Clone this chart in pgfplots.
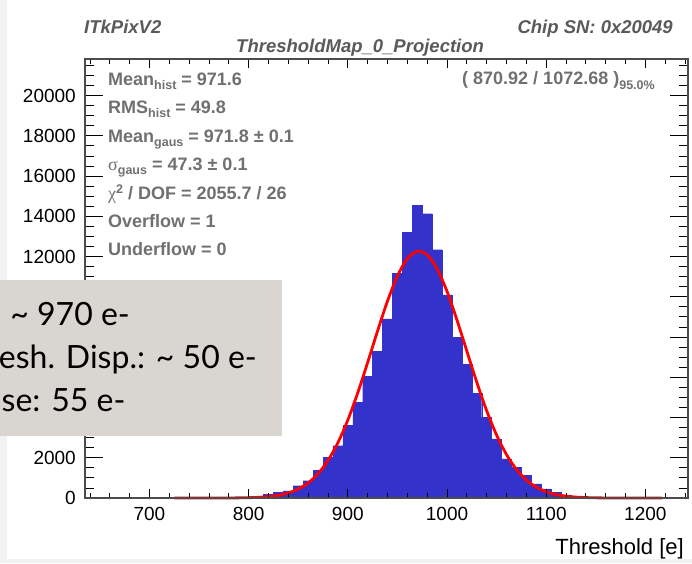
\documentclass[border=0pt]{standalone}
\usepackage{fontspec}
\setmainfont{Liberation Sans}
\newfontfamily\lato{Lato}
\newfontfamily\serifgr{Liberation Serif}
\usepackage{pgfplots}
\pgfplotsset{compat=1.18}
\definecolor{histblue}{RGB}{51,51,204}
\definecolor{boxgray}{RGB}{217,214,210}
\definecolor{titlegray}{RGB}{90,90,90}
\definecolor{statgray}{RGB}{112,112,112}
\definecolor{bggray}{RGB}{242,242,242}
\newcommand\sub[1]{\raisebox{-4pt}{\fontsize{12.5}{12.5}\selectfont #1}}
\begin{document}
\begin{tikzpicture}
\useasboundingbox (0,0) rectangle (692pt,-563pt);
\fill[bggray] (0,0) rectangle (692pt,-563pt);
\fill[white] (7pt,0) rectangle (692pt,-559pt);
\begin{axis}[at={(85pt,-498pt)}, anchor=south west, scale only axis,
  width=603pt, height=439pt, xmin=635, xmax=1243, ymin=0, ymax=21820,
  xtick={700,800,...,1200}, minor xtick={640,660,...,1240}, ytick=\empty,
  major tick length=9pt, minor tick length=5pt,
  axis on top, clip=false,
  axis line style={draw=black!70, line width=1.2pt},
  tick style={black, line width=0.9pt},
  xticklabel style={font=\fontsize{19}{19}\selectfont, /pgf/number format/1000 sep={}, anchor=north, inner sep=0pt, yshift=-9pt},
  /pgf/number format/assume math mode=true]
\addplot[const plot, fill=histblue, draw=histblue, line width=0.4pt] coordinates {
(795,15) (805,70) (815,165) (825,280) (835,360) (845,610) (855,860) (865,1360)
(875,2020) (885,2600) (895,3600) (905,4760) (915,6050) (925,7290) (935,8900)
(945,11170) (955,13210) (965,14540) (975,14130) (985,12340) (995,10100)
(1005,7990) (1015,6630) (1025,5200) (1035,4010) (1045,2940) (1055,1940)
(1065,1520) (1075,1110) (1085,700) (1095,450) (1105,280) (1115,160)
(1125,70) (1135,30) (1145,10) (1155,10)} \closedcycle;
\addplot[red, line width=2.8pt, smooth] coordinates {
(725,0) (760,0) (780,3) (790,8) (800,17) (810,35) (820,71) (830,137) (840,253)
(850,446) (860,751) (870,1211) (880,1866) (890,2751) (900,3877) (910,5226)
(920,6736) (930,8303) (940,9788) (950,11033) (960,11894) (970,12261)
(980,12087) (990,11394) (1000,10272) (1010,8855) (1020,7301) (1030,5756)
(1040,4339) (1050,3129) (1060,2157) (1070,1422) (1080,897) (1090,541)
(1100,312) (1110,172) (1120,91) (1130,46) (1140,22) (1150,10) (1160,4)
(1180,1) (1217,0)};
\end{axis}
\begin{axis}[at={(85pt,-498pt)}, anchor=south west, scale only axis,
  width=603pt, height=439pt, xmin=635, xmax=1243, ymin=0, ymax=21820,
  xtick=\empty, ytick={0,2000,...,20000}, minor ytick={0,500,...,21500},
  yticklabels={0,2000,{},{},{},{},12000,14000,16000,18000,20000},
  scaled y ticks=false,
  major tick length=18pt, minor tick length=9pt, axis on top,
  axis line style={draw=black!70, line width=1.2pt},
  tick style={black, line width=0.9pt},
  yticklabel style={font=\fontsize{19}{19}\selectfont, anchor=east, inner sep=0pt, xshift=-9pt}]
\end{axis}
\begin{scope}[font=\fontsize{18.5}{18.5}\selectfont\bfseries\itshape, text=titlegray]
\node[anchor=base west, inner sep=0pt] at (84pt,-33.5pt) {ITkPixV2};
\node[anchor=base east, inner sep=0pt] at (673pt,-33.5pt) {Chip SN: 0x20049};
\node[anchor=base west, inner sep=0pt] at (236pt,-52pt) {ThresholdMap\_0\_Projection};
\end{scope}
\begin{scope}[font=\fontsize{18}{18}\selectfont\bfseries, text=statgray]
\node[anchor=base west, inner sep=0pt] at (108pt,-85.5pt) {Mean\sub{hist} = 971.6};
\node[anchor=base west, inner sep=0pt] at (108pt,-113.9pt) {RMS\sub{hist} = 49.8};
\node[anchor=base west, inner sep=0pt] at (108pt,-142.3pt) {Mean\sub{gaus} = 971.8 ± 0.1};
\node[anchor=base west, inner sep=0pt] at (108pt,-170.7pt) {{\serifgr\mdseries σ}\sub{gaus} = 47.3 ± 0.1};
\node[anchor=base west, inner sep=0pt] at (108pt,-199.1pt) {{\serifgr\mdseries χ}\raisebox{6pt}{\fontsize{12.5}{12.5}\selectfont 2} / DOF = 2055.7 / 26};
\node[anchor=base west, inner sep=0pt] at (108pt,-227.5pt) {Overflow = 1};
\node[anchor=base west, inner sep=0pt] at (108pt,-255.9pt) {Underflow = 0};
\node[anchor=base west, inner sep=0pt] at (462pt,-84.5pt) {( 870.92 / 1072.68 )\raisebox{-5pt}{\fontsize{12.5}{12.5}\selectfont 95.0\%}};
\end{scope}
\node[anchor=base east, inner sep=0pt, font=\fontsize{22}{22}\selectfont] at (684pt,-554pt) {Threshold [e]};
\fill[boxgray] (0,-280pt) rectangle (282pt,-436pt);
\begin{scope}[font=\lato\fontsize{32}{32}\selectfont, text=black]
\node[anchor=base east, inner sep=0pt] at (130pt,-325pt) {\textasciitilde\ 970 e-};
\node[anchor=base east, inner sep=0pt] at (257pt,-368.3pt) {esh. Disp.: \textasciitilde\ 50 e-};
\node[anchor=base west, inner sep=0pt] at (1.5pt,-411.7pt) {se: 55 e-};
\end{scope}
\end{tikzpicture}
\end{document}
